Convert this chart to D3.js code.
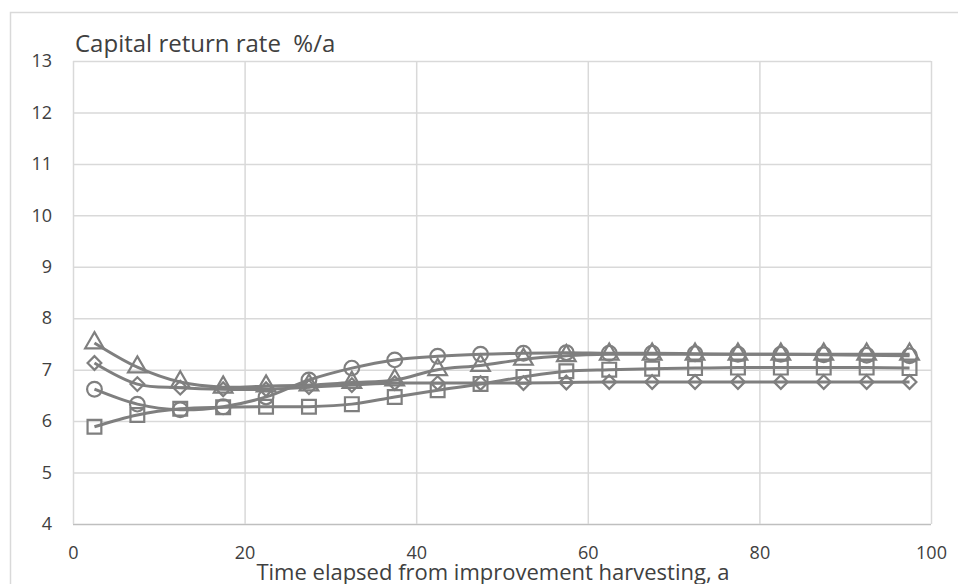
<!DOCTYPE html>
<html><head><meta charset="utf-8">
<script src="https://cdn.jsdelivr.net/npm/d3@7"></script>
<style>body{margin:0;background:#fff}svg{display:block}text{font-family:"Open Sans",sans-serif;fill:#404040}</style>
</head><body><svg id="c" width="958" height="584"></svg>
<script>
const years = [2.5,7.5,12.5,17.5,22.5,27.5,32.5,37.5,42.5,47.5,52.5,57.5,62.5,67.5,72.5,77.5,82.5,87.5,92.5,97.5];
const triangleSeries = [7.52,7.05,6.76,6.66,6.68,6.7,6.75,6.8,7.0,7.08,7.2,7.27,7.3,7.3,7.3,7.3,7.3,7.3,7.3,7.3];
const diamondSeries = [7.13,6.72,6.65,6.62,6.62,6.66,6.7,6.74,6.74,6.74,6.74,6.75,6.76,6.76,6.76,6.76,6.76,6.76,6.76,6.76];
const circleSeries = [6.62,6.33,6.22,6.28,6.47,6.8,7.03,7.19,7.26,7.3,7.32,7.33,7.32,7.32,7.31,7.3,7.3,7.29,7.28,7.27];
const squareSeries = [5.89,6.12,6.24,6.27,6.28,6.28,6.33,6.47,6.6,6.72,6.86,6.97,7.0,7.02,7.03,7.04,7.04,7.04,7.04,7.03];
const xTicks = [0,20,40,60,80,100];
const yTicks = [4,5,6,7,8,9,10,11,12,13];
const titleText = "Capital return rate  %/a";
const xTitle = "Time elapsed from improvement harvesting, a";

const svg = d3.select("#c");
const x = d3.scaleLinear().domain([0,100]).range([73,931]);
const y = d3.scaleLinear().domain([4,13]).range([524,61]);
const grid = "#d9d9d9", ink = "#7f7f7f";

svg.append("rect").attr("x",10.5).attr("y",12.5).attr("width",960).attr("height",600)
  .attr("fill","none").attr("stroke",grid).attr("stroke-width",1.5);

const yAxis = svg.append("g").attr("transform",`translate(${x(0)},0)`)
  .call(d3.axisLeft(y).tickValues(yTicks).tickSize(-(x(100)-x(0))).tickPadding(21));
yAxis.select(".domain").remove();
yAxis.selectAll("line").attr("stroke",grid).attr("stroke-width",1.5);
yAxis.selectAll("text").style("font-size","18px").attr("fill","#595959");
yAxis.selectAll(".tick").filter(d=>d===4).select("line").attr("stroke","#bfbfbf");

const xAxis = svg.append("g").attr("transform",`translate(0,${y(4)})`)
  .call(d3.axisBottom(x).tickValues(xTicks).tickSize(-(y(4)-y(13))).tickPadding(22));
xAxis.select(".domain").remove();
xAxis.selectAll("line").attr("stroke",grid).attr("stroke-width",1.5);
xAxis.selectAll("text").style("font-size","18px").attr("fill","#595959");

svg.append("text").attr("x",75).attr("y",52).style("font-size","24px").style("white-space","pre")
  .attr("fill","#000").text(titleText);
svg.append("text").attr("x",493).attr("y",580).attr("text-anchor","middle").style("font-size","22px")
  .attr("fill","#595959").text(xTitle);

const series = [
  {vals: triangleSeries, sym: d3.symbolTriangle, size: 150},
  {vals: diamondSeries, sym: d3.symbolDiamond2 || d3.symbolDiamond, size: 120},
  {vals: circleSeries, sym: d3.symbolCircle, size: 170},
  {vals: squareSeries, sym: d3.symbolSquare, size: 190}
];
const line = d3.line().x((d,i)=>x(years[i])).y(d=>y(d)).curve(d3.curveCatmullRom.alpha(0.5));
series.forEach(s=>{
  svg.append("path").attr("d",line(s.vals)).attr("fill","none").attr("stroke",ink).attr("stroke-width",3);
});
series.forEach(s=>{
  svg.append("g").selectAll("path").data(s.vals).join("path")
    .attr("transform",(d,i)=>`translate(${x(years[i])},${y(d)})`)
    .attr("d",d3.symbol().type(s.sym).size(s.size))
    .attr("fill","none").attr("stroke",ink).attr("stroke-width",2.2);
});
</script></body></html>
